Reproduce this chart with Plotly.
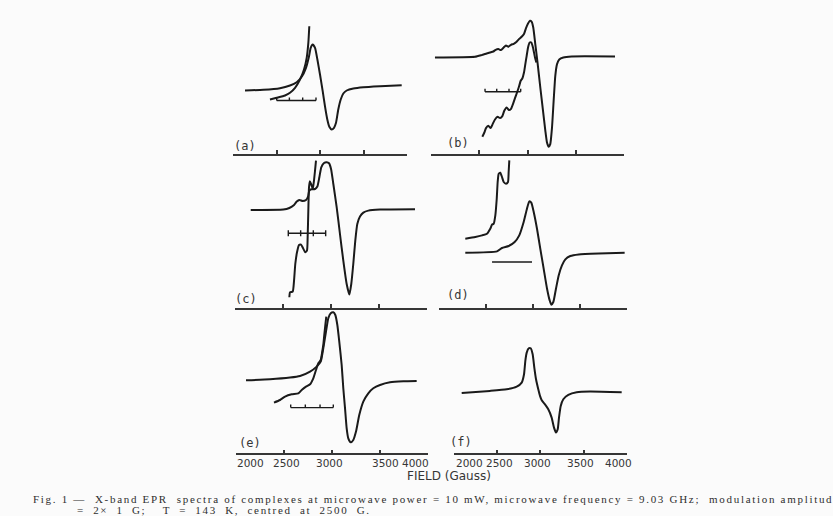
import plotly.graph_objects as go

# ---------------- data (field in gauss, intensity in arbitrary units) ----------------
TICK_VALUES = [2000, 2500, 3000, 3500, 4000]
TICK_LABELS = ["2000", "2500", "3000", "3500", "4000"]
PANEL_LABELS = ["(a)", "(b)", "(c)", "(d)", "(e)", "(f)"]
AXIS_TITLE = "FIELD (Gauss)"
CAPTION_1 = ("Fig. 1 \u2014  X-band EPR  spectra of complexes at microwave power = 10 mW,"
             " microwave frequency = 9.03 GHz;  modulation amplitud")
CAPTION_2 = "= 2\u00d7 1 G;  T = 143 K, centred at 2500 G."

# (a)
A_MAIN_FIELD = [2138, 2349, 2540, 2655, 2732, 2790, 2839, 2874, 2893, 2916, 2943, 2970, 3000, 3031,
                3057, 3084, 3107, 3134, 3161, 3184, 3210, 3238, 3268, 3307, 3383, 3498, 3690, 3939]
A_MAIN_INT = [63, 63.7, 65.3, 68, 71.3, 76.7, 85.7, 97.3, 105.7, 109, 105.7, 94, 79, 62.3,
              47.3, 34, 26.7, 24, 25.7, 30.7, 44, 54, 60, 63, 65, 66.3, 67.3, 68.3]
A_EXP_FIELD = [2425, 2502, 2598, 2655, 2713, 2770, 2816, 2847, 2866, 2877]
A_EXP_INT = [54, 55.7, 58, 60.7, 65.7, 74, 84, 95.7, 110.7, 127.3]
A_BAR_TICKS = [2502, 2648, 2801, 2954]
A_BAR_LEVEL = 53

# (b)
B_MAIN_FIELD = [2041, 2455, 2524, 2576, 2610, 2645, 2669, 2697, 2724, 2752, 2776, 2800, 2828, 2856,
                2883, 2910, 2938, 2962, 2983, 3004, 3024, 3042, 3058, 3079, 3104, 3131, 3159, 3183,
                3200, 3218, 3234, 3252, 3269, 3286, 3304, 3327, 3369, 3456, 3904]
B_MAIN_INT = [96, 96.7, 98.4, 100, 101, 102, 103.7, 104.4, 103.4, 106, 108, 106.7, 108.7, 109.7,
              111.4, 114.4, 116.7, 119.4, 125.4, 130, 132.7, 131.7, 126, 109.4, 89.4, 66, 42.7, 22.7,
              11, 6.7, 9.4, 26, 52.7, 77.7, 89.4, 94, 96, 97, 97]
B_EXP_FIELD = [2531, 2552, 2569, 2593, 2618, 2638, 2662, 2690, 2714, 2738, 2758, 2783, 2807, 2828,
               2848, 2869, 2890, 2910, 2928, 2945, 2962, 2976, 2990, 3004, 3021, 3038, 3055, 3076, 3090]
B_EXP_INT = [16.7, 21, 25.4, 27.7, 25.4, 29.4, 34, 36.7, 35.4, 37.4, 42.7, 46, 43.4, 44.7,
             49.4, 55.4, 61, 66.7, 72.7, 75, 81, 89.4, 97.7, 106, 111, 111, 106, 96, 91]
B_BAR_TICKS = [2559, 2680, 2807, 2928]
B_BAR_LEVEL = 61.7

# (c)
C_MAIN_FIELD = [2164, 2504, 2567, 2616, 2644, 2671, 2706, 2741, 2762, 2775, 2796, 2835, 2859, 2880,
                2900, 2929, 2957, 2981, 3002, 3026, 3061, 3095, 3130, 3165, 3193, 3213, 3234, 3255,
                3276, 3304, 3339, 3391, 3513, 3878]
C_MAIN_INT = [98, 98.4, 100, 103, 106.4, 108, 107, 108, 111.4, 117.4, 118.7, 119, 121.4, 130.7,
              140.7, 145, 145.7, 144.7, 139, 124, 100.7, 74, 47.4, 24, 13.4, 24, 44, 67.4,
              84, 91.4, 95.4, 97.4, 98.4, 98.7]
C_EXP_FIELD = [2567, 2574, 2602, 2616, 2629, 2647, 2668, 2689, 2709, 2733, 2751, 2758, 2765, 2772,
               2782, 2796, 2811, 2824, 2835, 2845]
C_EXP_INT = [10.7, 15.7, 16.4, 27.4, 44, 55.7, 63, 63.4, 60, 55.7, 57.4, 70.7, 97.4, 120.7,
             126.7, 123.4, 119, 127.4, 137.4, 147.4]
C_BAR_TICKS = [2556, 2685, 2817, 2946]
C_BAR_LEVEL = 74.7

# (d)
D_MAIN_FIELD = [2277, 2615, 2668, 2739, 2803, 2852, 2899, 2934, 2959, 2980, 3006, 3041, 3076, 3112,
                3148, 3176, 3193, 3215, 3243, 3272, 3307, 3343, 3396, 3485, 3698, 3975]
D_MAIN_INT = [55.3, 56.6, 60, 62, 66, 72.6, 86, 99.3, 106.6, 105.3, 96, 79.3, 59.3, 39.3,
              19.3, 7.6, 3.3, 6, 19.3, 32.6, 42.6, 48.6, 52, 53.6, 54.6, 55.3]
D_EXP_FIELD = [2277, 2384, 2455, 2508, 2543, 2562, 2580, 2597, 2612, 2622, 2633, 2650, 2668, 2686,
               2711, 2732, 2739, 2746]
D_EXP_INT = [69.3, 71, 72.6, 74.3, 79.3, 83.3, 84.3, 92.6, 109.3, 126, 134.3, 135.3, 131, 126,
             124.3, 126, 136, 147.6]
D_BAR_TICKS = [2562, 2988]
D_BAR_LEVEL = 46

# (e)
E_MAIN_FIELD = [2104, 2354, 2562, 2666, 2770, 2839, 2881, 2908, 2936, 2960, 2985, 3012, 3033, 3054,
                3074, 3099, 3116, 3134, 3151, 3168, 3193, 3220, 3248, 3282, 3324, 3376, 3428, 3498,
                3602, 3740, 3879]
E_MAIN_INT = [73, 74, 75.7, 77.3, 81.7, 86.7, 91.7, 105, 121.7, 135, 140, 141, 138.3, 128.3,
              111.7, 88.3, 65, 45, 25, 15, 11, 13.3, 21.7, 38.3, 51.7, 60, 65, 68.3,
              71, 72, 72.3]
E_EXP_FIELD = [2395, 2458, 2510, 2579, 2648, 2683, 2728, 2770, 2804, 2832, 2856, 2881, 2894, 2908,
               2918, 2929, 2939]
E_EXP_INT = [50.7, 53.3, 56.7, 59, 60, 63.3, 66.7, 69, 75, 83.3, 90, 93.3, 100, 108.3,
             118.3, 128.3, 136.7]
E_BAR_TICKS = [2569, 2721, 2874, 3012]
E_BAR_LEVEL = 45.7

# (f)
F_MAIN_FIELD = [2089, 2417, 2610, 2726, 2784, 2811, 2826, 2842, 2865, 2888, 2911, 2930, 2950, 2976,
                2996, 3016, 3054, 3092, 3131, 3158, 3181, 3201, 3216, 3236, 3266, 3324, 3421, 3575, 3942]
F_MAIN_INT = [60.4, 62.4, 64, 66.7, 70.7, 79, 92.4, 100.7, 105, 105, 99, 85.7, 74, 64,
              57.4, 53, 49, 44, 35.7, 25.7, 20.7, 24, 35.7, 47.4, 54, 58.4, 61, 61.7, 61]

# ---------------- layout geometry (pixels of the 833x516 canvas) ----------------
W, H = 833, 516
INK = "#1a1a1a"
AXIS_INK = "#363636"
CAPTION_INK = "#2e2e2e"
BG = "#fbfbfb"

PANEL_X = [(233, 407), (431, 624.3), (235, 426.7), (439.3, 627), (236, 428.3), (454, 626.7)]
ROWS = [(153.5, 140), (308, 150), (453.3, 144)]
TICKLABEL_ANCHOR = ["left", "center", "center", "center", "right"]
TICKLABEL_SHIFT = {4: [0, 2, -3, 5, 2], 5: [1, 2, -3, -3, 6]}
TICKLABEL_Y = 462.5

panels = [
    dict(curves=[(A_MAIN_FIELD, A_MAIN_INT), (A_EXP_FIELD, A_EXP_INT)],
         bar=(A_BAR_TICKS, A_BAR_LEVEL, "up")),
    dict(curves=[(B_MAIN_FIELD, B_MAIN_INT), (B_EXP_FIELD, B_EXP_INT)],
         bar=(B_BAR_TICKS, B_BAR_LEVEL, "up")),
    dict(curves=[(C_MAIN_FIELD, C_MAIN_INT), (C_EXP_FIELD, C_EXP_INT)],
         bar=(C_BAR_TICKS, C_BAR_LEVEL, "cross")),
    dict(curves=[(D_MAIN_FIELD, D_MAIN_INT), (D_EXP_FIELD, D_EXP_INT)],
         bar=(D_BAR_TICKS, D_BAR_LEVEL, "none")),
    dict(curves=[(E_MAIN_FIELD, E_MAIN_INT), (E_EXP_FIELD, E_EXP_INT)],
         bar=(E_BAR_TICKS, E_BAR_LEVEL, "up")),
    dict(curves=[(F_MAIN_FIELD, F_MAIN_INT)], bar=None),
]

fig = go.Figure()
layout = dict(
    width=W, height=H, autosize=False, margin=dict(l=0, r=0, t=0, b=0, pad=0),
    paper_bgcolor=BG, plot_bgcolor=BG, showlegend=False,
    font=dict(family="DejaVu Sans", color=AXIS_INK),
)

annotations = []
for i, p in enumerate(panels):
    n = i + 1
    xr = "x" if n == 1 else f"x{n}"
    yr = "y" if n == 1 else f"y{n}"
    row_bottom, row_h = ROWS[i // 2]
    x0, x1 = PANEL_X[i]
    for fx, fy in p["curves"]:
        fig.add_trace(go.Scatter(
            x=fx, y=fy, mode="lines", xaxis=xr, yaxis=yr, hoverinfo="skip",
            line=dict(color=INK, width=2, shape="spline", smoothing=0.5)))
    if p["bar"] is not None:
        ticks, level, style = p["bar"]
        bx, by = [ticks[0], ticks[-1], None], [level, level, None]
        if style != "none":
            lo = level - 3 if style == "cross" else level
            for t in ticks:
                bx += [t, t, None]
                by += [lo, level + 3, None]
        fig.add_trace(go.Scatter(
            x=bx, y=by, mode="lines", xaxis=xr, yaxis=yr, hoverinfo="skip",
            line=dict(color=INK, width=1.4)))

    layout["xaxis" if n == 1 else f"xaxis{n}"] = dict(
        domain=[x0 / W, x1 / W], range=[2000, 4000], anchor=yr,
        showline=True, linecolor=AXIS_INK, linewidth=1.5,
        ticks="inside", ticklen=4, tickwidth=1.5, tickcolor=AXIS_INK,
        tickvals=TICK_VALUES, showticklabels=False, automargin=False,
        showgrid=False, zeroline=False, fixedrange=True)
    layout["yaxis" if n == 1 else f"yaxis{n}"] = dict(
        domain=[1 - row_bottom / H, 1 - (row_bottom - row_h) / H], range=[0, row_h],
        anchor=xr, visible=False, showgrid=False, zeroline=False, fixedrange=True)

    # tick labels of the bottom row, written at the tick values of each axis
    if i in TICKLABEL_SHIFT:
        for val, lab, anc, sh in zip(TICK_VALUES, TICK_LABELS, TICKLABEL_ANCHOR, TICKLABEL_SHIFT[i]):
            annotations.append(dict(text=lab, x=val, xref=xr, y=1 - TICKLABEL_Y / H, yref="paper",
                                    showarrow=False, xanchor=anc, yanchor="middle", xshift=sh,
                                    borderpad=0,
                                    font=dict(family="DejaVu Sans", size=10.5, color=AXIS_INK)))

LABEL_POS = [(245, 146), (458, 143), (246, 298.5), (458, 294.5), (250, 443), (461, 442)]
for txt, (lx, ly) in zip(PANEL_LABELS, LABEL_POS):
    annotations.append(dict(text=txt, x=lx / W, y=1 - ly / H, xref="paper", yref="paper",
                            showarrow=False, xanchor="center", yanchor="middle", borderpad=0,
                            font=dict(family="DejaVu Sans Mono", size=12, color=AXIS_INK)))

annotations.append(dict(text=AXIS_TITLE, x=449 / W, y=1 - 476 / H, xref="paper", yref="paper",
                        showarrow=False, xanchor="center", yanchor="middle", borderpad=0,
                        font=dict(family="DejaVu Sans", size=12, color=AXIS_INK)))
annotations.append(dict(text=f'<span style="letter-spacing:1.7px">{CAPTION_1}</span>',
                        x=32 / W, y=1 - 499 / H, xref="paper", yref="paper",
                        showarrow=False, xanchor="left", yanchor="middle", borderpad=0,
                        font=dict(family="Liberation Serif", size=11, color=CAPTION_INK)))
annotations.append(dict(text=f'<span style="letter-spacing:1.7px;word-spacing:3.8px">{CAPTION_2}</span>',
                        x=76 / W, y=1 - 510.3 / H, xref="paper", yref="paper",
                        showarrow=False, xanchor="left", yanchor="middle", borderpad=0,
                        font=dict(family="Liberation Serif", size=11, color=CAPTION_INK)))

layout["annotations"] = annotations
fig.update_layout(**layout)
fig.write_html(
    "out.html",
    config={"responsive": False, "displayModeBar": False},
    post_script="document.body.style.margin='0';document.body.style.overflow='hidden';",
)
